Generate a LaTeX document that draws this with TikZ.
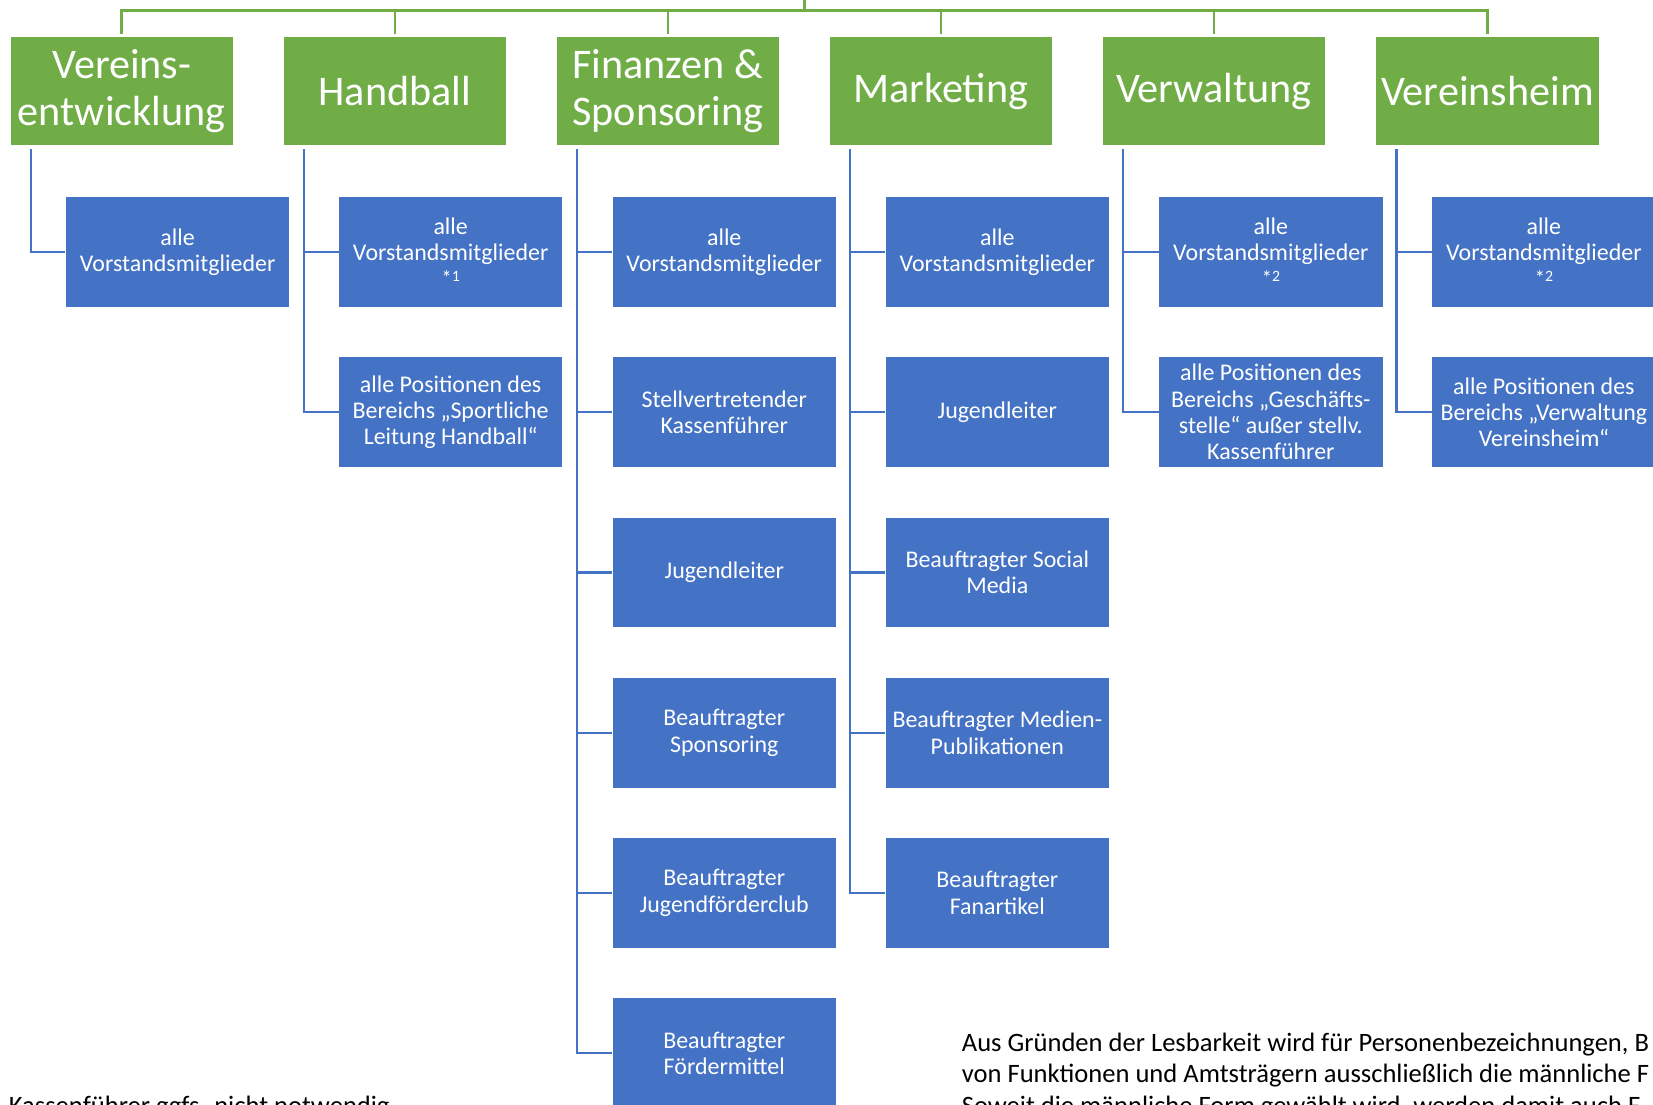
\documentclass[tikz,border=0pt]{standalone}
\usepackage{fontspec}
\setmainfont{Carlito}
\usetikzlibrary{calc}
\definecolor{ogreen}{HTML}{70AD47}
\definecolor{oblue}{HTML}{4472C4}
\tikzset{
  head/.style={fill=ogreen, text=white, minimum width=105.5pt, minimum height=51.5pt, inner sep=0pt, align=center, font=\fontsize{20pt}{22pt}\selectfont},
  sub/.style={fill=oblue, text=white, minimum width=106pt, minimum height=52pt, inner sep=0pt, align=center, font=\fontsize{11.35pt}{12.5pt}\selectfont},
  gline/.style={draw=ogreen, line width=1.2pt},
  bline/.style={draw=oblue, line width=1.1pt},
  note/.style={anchor=base west, inner sep=0pt, font=\fontsize{12.6pt}{15pt}\selectfont}
}
\newcommand{\stern}[1]{\\[-2.5pt]{\fontsize{10pt}{10pt}\selectfont\raisebox{-1.8pt}{*}}{\fontsize{7.5pt}{8pt}\selectfont #1}\vphantom{\fontsize{11.35pt}{12.5pt}\selectfont g}}
\begin{document}
\begin{tikzpicture}[x=0.5pt,y=-0.5pt]
\useasboundingbox (0,0) rectangle (1568,1048);
\clip (0,0) rectangle (1568,1048);
% green heads
\node[head] (g1) at (115.5,86.5) {Vereins-\\entwicklung};
\node[head] (g2) at (374.5,86.5) {Handball};
\node[head] (g3) at (633.5,86.5) {Finanzen \&\\Sponsoring};
\node[head] (g4) at (892.5,86.5) {Marketing};
\node[head] (g5) at (1151.5,86.5) {Verwaltung};
\node[head] (g6) at (1411,86.5) {Vereinsheim};
% top connectors
\coordinate (top) at (763,0);
\coordinate (hub) at (763,10);
\draw[gline] (top) -- (hub);
\foreach \g in {g1,g2,g3,g4,g5,g6}{
  \draw[gline] (hub) -| ($(\g.north)+(0,-2)$);
}
% blue boxes
\node[sub] (b11) at (168.5,239) {alle\\Vorstandsmitglieder};
\node[sub] (b21) at (427.5,239) {alle\\Vorstandsmitglieder\stern{1}};
\node[sub] (b22) at (427.5,391) {alle Positionen des\\Bereichs „Sportliche\\Leitung Handball“};
\node[sub] (b31) at (687,239) {alle\\Vorstandsmitglieder};
\node[sub] (b32) at (687,391) {Stellvertretender\\Kassenführer};
\node[sub] (b33) at (687,543) {Jugendleiter};
\node[sub] (b34) at (687,695) {Beauftragter\\Sponsoring};
\node[sub] (b35) at (687,847) {Beauftragter\\Jugendförderclub};
\node[sub] (b36) at (687,999) {Beauftragter\\Fördermittel};
\node[sub] (b41) at (946,239) {alle\\Vorstandsmitglieder};
\node[sub] (b42) at (946,391) {Jugendleiter};
\node[sub] (b43) at (946,543) {Beauftragter Social\\Media};
\node[sub] (b44) at (946,695) {Beauftragter Medien-\\Publikationen};
\node[sub] (b45) at (946,847) {Beauftragter\\Fanartikel};
\node[sub] (b51) at (1205.5,239) {alle\\Vorstandsmitglieder\stern{2}};
\node[sub] (b52) at (1205.5,391) {alle Positionen des\\Bereichs „Geschäfts-\\stelle“ außer stellv.\\Kassenführer};
\node[sub] (b61) at (1464.5,239) {alle\\Vorstandsmitglieder\stern{2}};
\node[sub] (b62) at (1464.5,391) {alle Positionen des\\Bereichs „Verwaltung\\Vereinsheim“};
% blue connectors
\foreach \g/\list in {g1/{b11}, g2/{b21,b22}, g3/{b31,b32,b33,b34,b35,b36}, g4/{b41,b42,b43,b44,b45}, g5/{b51,b52}, g6/{b61,b62}}{
  \coordinate (s) at ($(\g.south west)+(19.5,3)$);
  \foreach \b in \list {
    \draw[bline] (s) |- (\b.west);
  }
}
% notes
\node[note] (n1) at (912,997) {Aus Gründen der Lesbarkeit wird für Personenbezeichnungen, B};
\node[note] (n2) at (912,1027) {von Funktionen und Amtsträgern ausschließlich die männliche F};
\node[note] (n3) at (912,1057) {Soweit die männliche Form gewählt wird, werden damit auch F};
\node[note] (n4) at (8,1057) {Kassenführer ggfs. nicht notwendig};
\end{tikzpicture}
\end{document}
